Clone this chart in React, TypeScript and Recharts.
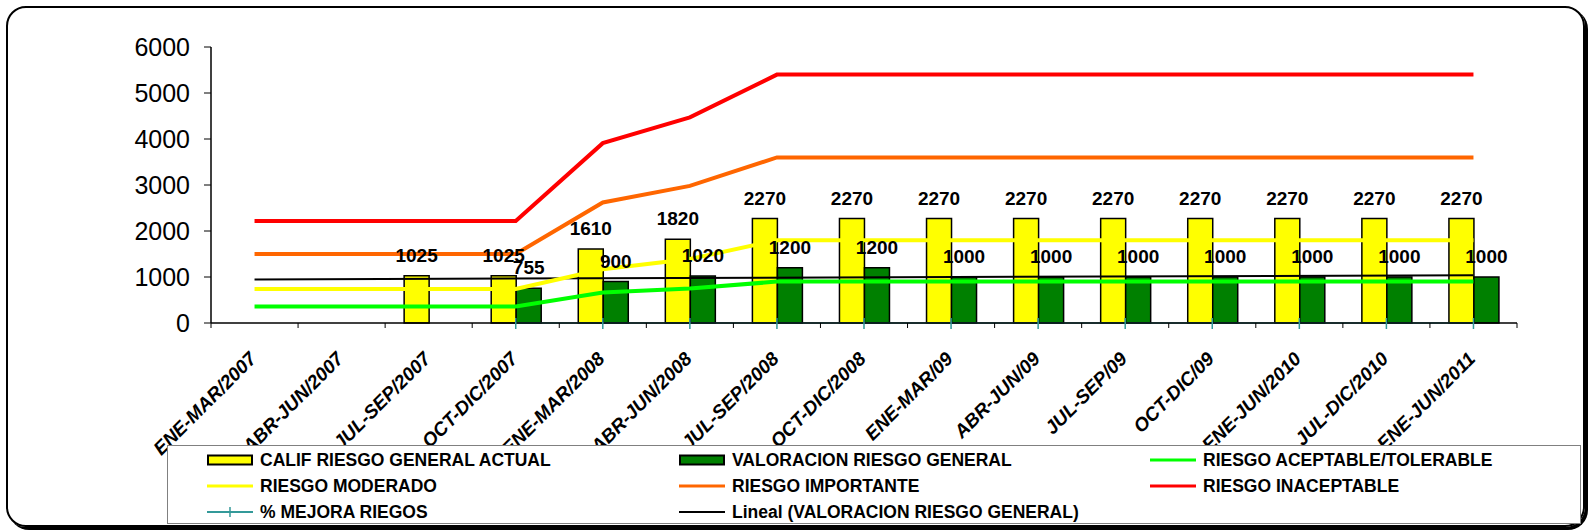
import React from "react";
import { ComposedChart, Bar, Line, XAxis, YAxis, LabelList } from "recharts";

const categories = [
  "ENE-MAR/2007",
  "ABR-JUN/2007",
  "JUL-SEP/2007",
  "OCT-DIC/2007",
  "ENE-MAR/2008",
  "ABR-JUN/2008",
  "JUL-SEP/2008",
  "OCT-DIC/2008",
  "ENE-MAR/09",
  "ABR-JUN/09",
  "JUL-SEP/09",
  "OCT-DIC/09",
  "ENE-JUN/2010",
  "JUL-DIC/2010",
  "ENE-JUN/2011",
];

const califActual = [null, null, 1025, 1025, 1610, 1820, 2270, 2270, 2270, 2270, 2270, 2270, 2270, 2270, 2270];
const valoracion = [null, null, null, 755, 900, 1020, 1200, 1200, 1000, 1000, 1000, 1000, 1000, 1000, 1000];
const aceptable = [360, 360, 360, 360, 665, 750, 900, 900, 900, 900, 900, 900, 900, 900, 900];
const moderado = [740, 740, 740, 740, 1170, 1390, 1800, 1800, 1800, 1800, 1800, 1800, 1800, 1800, 1800];
const importante = [1500, 1500, 1500, 1500, 2620, 2980, 3600, 3600, 3600, 3600, 3600, 3600, 3600, 3600, 3600];
const inaceptable = [2220, 2220, 2220, 2220, 3910, 4470, 5400, 5400, 5400, 5400, 5400, 5400, 5400, 5400, 5400];
const mejora = [null, null, null, 0, 0, 0, 0, 0, 0, 0, 0, 0, 0, 0, 0];
// trend line endpoints only (first and last category)
const tendencia = [945, null, null, null, null, null, null, null, null, null, null, null, null, null, 1040];

const yTicks = [0, 1000, 2000, 3000, 4000, 5000, 6000];

const data = categories.map((name, i) => ({
  name,
  calif: califActual[i],
  valor: valoracion[i],
  aceptable: aceptable[i],
  moderado: moderado[i],
  importante: importante[i],
  inaceptable: inaceptable[i],
  mejora: mejora[i],
  tendencia: tendencia[i],
}));

const FONT = "'Liberation Sans', Arial, sans-serif";
const W = 1591;
const H = 531;
const PLOT_LEFT = 211;
const PLOT_RIGHT = 1517;
const BAND = (PLOT_RIGHT - PLOT_LEFT) / categories.length;

function XTick(props: any) {
  const { x, y, payload, index } = props;
  const lx = x + 3;
  const ly = y + 37;
  return (
    <g>
      <line x1={x - BAND / 2} y1={y} x2={x - BAND / 2} y2={y + 5} stroke="#000" strokeWidth={1} />
      {index === categories.length - 1 && (
        <line x1={x + BAND / 2} y1={y} x2={x + BAND / 2} y2={y + 5} stroke="#000" strokeWidth={1} />
      )}
      <text
        x={lx}
        y={ly}
        transform={`rotate(-45, ${lx}, ${ly})`}
        textAnchor="end"
        fontFamily={FONT}
        fontSize={19}
        fontWeight="bold"
        fontStyle="italic"
        fill="#000"
      >
        {payload.value}
      </text>
    </g>
  );
}

function PlusDot(props: any) {
  const { cx, cy, value } = props;
  if (value === null || value === undefined || cx == null) return null;
  return <line x1={cx} y1={cy - 5} x2={cx} y2={cy + 6} stroke="#339999" strokeWidth={1.5} />;
}

type LegendItem = { label: string; kind: "bar" | "line" | "plus"; color: string };

const legendRows: LegendItem[][] = [
  [
    { label: "CALIF RIESGO GENERAL ACTUAL", kind: "bar", color: "#FFFF00" },
    { label: "VALORACION RIESGO GENERAL", kind: "bar", color: "#008000" },
    { label: "RIESGO ACEPTABLE/TOLERABLE", kind: "line", color: "#00FF00" },
  ],
  [
    { label: "RIESGO MODERADO", kind: "line", color: "#FFFF00" },
    { label: "RIESGO IMPORTANTE", kind: "line", color: "#FF6600" },
    { label: "RIESGO INACEPTABLE", kind: "line", color: "#FF0000" },
  ],
  [
    { label: "% MEJORA RIEGOS", kind: "plus", color: "#339999" },
    { label: "Lineal (VALORACION RIESGO GENERAL)", kind: "line", color: "#000000" },
  ],
];

const legendCols = [206, 678, 1149];

function Symbol({ item }: { item: LegendItem }) {
  return (
    <svg width={46} height={12} style={{ display: "block" }}>
      {item.kind === "bar" && (
        <rect x={1} y={1.5} width={44} height={9} fill={item.color} stroke="#000" strokeWidth={2} />
      )}
      {item.kind === "line" && <line x1={0} y1={6} x2={46} y2={6} stroke={item.color} strokeWidth={item.color === "#000000" ? 2 : 3} />}
      {item.kind === "plus" && (
        <g>
          <line x1={0} y1={6} x2={46} y2={6} stroke={item.color} strokeWidth={2} />
          <line x1={23} y1={1} x2={23} y2={11} stroke={item.color} strokeWidth={1.5} />
        </g>
      )}
    </svg>
  );
}

function ChartLegend() {
  return (
    <div
      style={{
        position: "absolute",
        left: 167,
        top: 445,
        width: 1414,
        height: 79,
        border: "1px solid #808080",
        background: "#fff",
        boxSizing: "border-box",
      }}
    >
      {legendRows.map((row, r) =>
        row.map((item, c) => (
          <div
            key={`${r}-${c}`}
            style={{
              position: "absolute",
              left: legendCols[c] - 167,
              top: 14 + r * 26 - 12,
              height: 24,
              display: "flex",
              alignItems: "center",
              whiteSpace: "nowrap",
            }}
          >
            <Symbol item={item} />
            <span
              style={{
                marginLeft: 7,
                fontFamily: FONT,
                fontWeight: "bold",
                fontSize: 17.5,
                color: "#000",
              }}
            >
              {item.label}
            </span>
          </div>
        ))
      )}
    </div>
  );
}

export default function App() {
  return (
    <div style={{ position: "absolute", left: 0, top: 0, width: W, height: H, background: "#fff", overflow: "hidden" }}>
      <div
        style={{
          position: "absolute",
          left: 6,
          top: 6,
          width: 1579,
          height: 521,
          border: "2px solid #000",
          borderRadius: 20,
          boxShadow: "3px 3px 0 #000",
          boxSizing: "border-box",
        }}
      />
      <div style={{ position: "absolute", left: 0, top: 0 }}>
        <ComposedChart
          width={W}
          height={H}
          data={data}
          margin={{ top: 47, right: W - PLOT_RIGHT, left: 0, bottom: 88 }}
          barSize={25}
          barGap={0}
        >
          <XAxis
            dataKey="name"
            height={120}
            interval={0}
            tickSize={0}
            tickMargin={0}
            tickLine={false}
            axisLine={{ stroke: "#000", strokeWidth: 1.5 }}
            tick={<XTick />}
          />
          <YAxis
            width={PLOT_LEFT}
            domain={[0, 6000]}
            ticks={yTicks}
            interval={0}
            tickSize={7}
            tickMargin={14}
            axisLine={{ stroke: "#000", strokeWidth: 1.5 }}
            tickLine={{ stroke: "#000" }}
            tick={{ fill: "#000", fontSize: 25, fontFamily: FONT }}
          />
          <Bar dataKey="calif" fill="#FFFF00" stroke="#000" strokeWidth={1.5} isAnimationActive={false}>
            <LabelList
              dataKey="calif"
              position="top"
              offset={14}
              style={{ fontFamily: FONT, fontWeight: "bold", fontSize: 19, fill: "#000" }}
            />
          </Bar>
          <Bar dataKey="valor" fill="#008000" stroke="#000" strokeWidth={1.5} isAnimationActive={false}>
            <LabelList
              dataKey="valor"
              position="top"
              offset={14}
              style={{ fontFamily: FONT, fontWeight: "bold", fontSize: 19, fill: "#000" }}
            />
          </Bar>
          <Line dataKey="tendencia" stroke="#000" strokeWidth={2} dot={false} connectNulls isAnimationActive={false} />
          <Line dataKey="aceptable" stroke="#00FF00" strokeWidth={4} dot={false} isAnimationActive={false} />
          <Line dataKey="moderado" stroke="#FFFF00" strokeWidth={4} dot={false} isAnimationActive={false} />
          <Line dataKey="importante" stroke="#FF6600" strokeWidth={4} dot={false} isAnimationActive={false} />
          <Line dataKey="inaceptable" stroke="#FF0000" strokeWidth={4} dot={false} isAnimationActive={false} />
          <Line
            dataKey="mejora"
            stroke="#339999"
            strokeWidth={1.5}
            dot={<PlusDot />}
            isAnimationActive={false}
          />
        </ComposedChart>
      </div>
      <ChartLegend />
    </div>
  );
}
